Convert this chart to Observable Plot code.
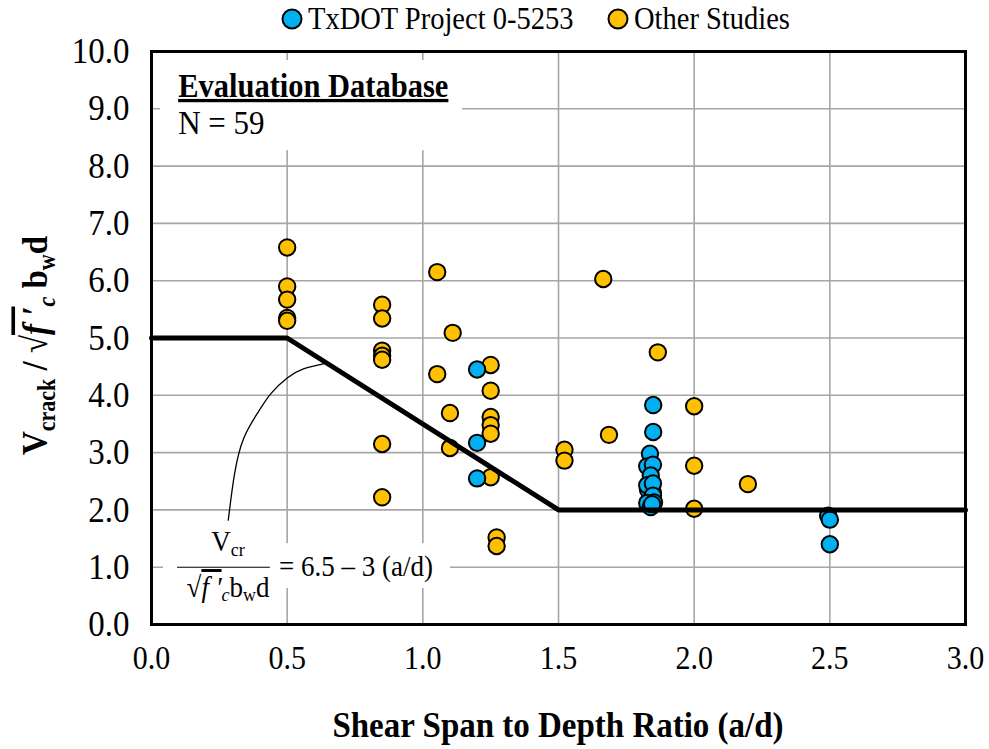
<!DOCTYPE html>
<html>
<head>
<meta charset="utf-8">
<script src="https://cdn.jsdelivr.net/npm/d3@7"></script>
<script src="https://cdn.jsdelivr.net/npm/@observablehq/plot@0.6"></script>
<style>
  html, body { margin: 0; padding: 0; background: #fff; }
  body { position: relative; width: 989px; height: 749px; overflow: hidden; font-family: "Liberation Serif", "Times New Roman", serif; }
  #legend { position: absolute; left: 0; top: 0; width: 989px; height: 36px; z-index: 2; }
  .item { position: absolute; top: 3px; display: flex; align-items: center; font-size: 28.5px; color: #000; white-space: nowrap; }
  .item svg { margin-right: 4px; }
  .item span { display: inline-block; transform: scaleY(1.08); }
  svg { overflow: visible; }
</style>
</head>
<body>
<div id="chart"></div>
<div id="legend"></div>
<script>
// ---- data ----
const seriesNames = ["TxDOT Project 0-5253", "Other Studies"];
const seriesColors = ["#00B0F0", "#FFC000"];

const txdotX = [1.20, 1.20, 1.20,
  1.849, 1.849, 1.837, 1.827, 1.848, 1.840, 1.830, 1.845, 1.827, 1.848, 1.848, 1.827, 1.852, 1.840, 1.845,
  2.494, 2.50, 2.50];
const txdotY = [4.45, 3.17, 2.55,
  3.83, 3.36, 2.98, 2.76, 2.79, 2.60, 2.35, 2.20, 2.43, 2.46, 2.25, 2.12, 2.13, 2.05, 2.10,
  1.90, 1.83, 1.40];

const otherX = [0.50, 0.50, 0.50, 0.50, 0.50,
  0.85, 0.85, 0.85, 0.85, 0.85, 0.85, 0.85,
  1.053, 1.053, 1.11, 1.10, 1.10,
  1.25, 1.25, 1.25, 1.25, 1.25, 1.25,
  1.272, 1.272, 1.522, 1.522, 1.665, 1.686, 1.866,
  2.0, 2.0, 2.0, 2.198, 1.848];
const otherY = [6.58, 5.90, 5.67, 5.35, 5.30,
  5.58, 5.34, 4.78, 4.69, 4.62, 3.15, 2.22,
  6.15, 4.37, 5.09, 3.69, 3.08,
  4.53, 4.08, 3.62, 3.48, 3.33, 2.57,
  1.52, 1.37, 3.05, 2.86, 6.03, 3.31, 4.75,
  3.81, 2.77, 2.02, 2.45, 2.30];

// design equation Vcr/(sqrt(f'c) bw d) = 6.5 - 3(a/d), limited to 2..5
const designX = [0, 0.5, 1.5, 3.0];
const designY = [5, 5, 2, 2];

// leader curve from the equation to the design line
const leaderX = [0.283, 0.305, 0.34, 0.395, 0.44, 0.50, 0.56, 0.645];
const leaderY = [1.82, 2.60, 3.25, 3.72, 4.03, 4.30, 4.46, 4.56];

const xTicks = [0, 0.5, 1.0, 1.5, 2.0, 2.5, 3.0];
const yTicks = [0, 1, 2, 3, 4, 5, 6, 7, 8, 9, 10];

const xLabel = "Shear Span to Depth Ratio (a/d)";
const boxTitle = "Evaluation Database";
const boxN = "N = 59";

// white boxes behind annotations [x1, x2, y1, y2] in data units
const boxX1 = [0.033, 0.044, 0.457];
const boxX2 = [1.146, 0.457, 1.102];
const boxY1 = [8.27, 0.16, 0.63];
const boxY2 = [9.84, 1.73, 1.41];

// ---- build tables ----
const txdot = txdotX.map((x, i) => ({x, y: txdotY[i]}));
const other = otherX.map((x, i) => ({x, y: otherY[i]}));
const design = designX.map((x, i) => ({x, y: designY[i]}));
const leader = leaderX.map((x, i) => ({x, y: leaderY[i]}));
const boxes = boxX1.map((x1, i) => ({x1, x2: boxX2[i], y1: boxY1[i], y2: boxY2[i]}));

const plot = Plot.plot({
  width: 989,
  height: 749,
  marginLeft: 151,
  marginRight: 24,
  marginTop: 51,
  marginBottom: 125,
  style: {fontFamily: "Liberation Serif, Times New Roman, serif", fontSize: "28px", color: "#000", background: "#fff", overflow: "visible"},
  x: {domain: [0, 3], ticks: xTicks},
  y: {domain: [0, 10], ticks: yTicks},
  marks: [
    Plot.gridX(xTicks, {stroke: "#a6a6a6", strokeOpacity: 1, strokeWidth: 1.6}),
    Plot.gridY(yTicks, {stroke: "#a6a6a6", strokeOpacity: 1, strokeWidth: 1.6}),
    Plot.rect(boxes, {x1: "x1", x2: "x2", y1: "y1", y2: "y2", fill: "white"}),
    Plot.axisX(xTicks, {tickSize: 0, tickPadding: 21, tickFormat: d => d.toFixed(1), label: null, fontSize: 30}),
    Plot.axisY(yTicks, {tickSize: 0, tickPadding: 22, tickFormat: d => d.toFixed(1), label: null, fontSize: 33}),
    Plot.dot(other, {x: "x", y: "y", r: 8.2, fill: seriesColors[1], stroke: "black", strokeWidth: 2, fillOpacity: 1}),
    Plot.dot(txdot, {x: "x", y: "y", r: 8.2, fill: seriesColors[0], stroke: "black", strokeWidth: 2, fillOpacity: 1}),
    Plot.line(design, {x: "x", y: "y", stroke: "black", strokeWidth: 5}),
    Plot.line(leader, {x: "x", y: "y", stroke: "black", strokeWidth: 1.3, curve: "natural"}),
    Plot.frame({stroke: "black", strokeWidth: 3})
  ]
});

document.getElementById("chart").appendChild(plot);

const sx = plot.scale("x"), sy = plot.scale("y");
const svg = d3.select(plot);
const serif = "Liberation Serif, Times New Roman, serif";

// stretch tick labels slightly vertically like the reference
svg.selectAll("g[aria-label='x-axis tick label'] text, g[aria-label='y-axis tick label'] text").each(function () {
  const t = this.getAttribute("transform");
  if (t) this.setAttribute("transform", t + " scale(1,1.1)");
});

// helper: text placed at px with slight vertical stretch
function addText(x, y, opts) {
  return svg.append("text")
    .attr("transform", `translate(${x},${y}) scale(1,${opts.sy || 1.08})`)
    .attr("text-anchor", opts.anchor || "start")
    .attr("font-family", serif)
    .attr("font-weight", opts.weight || "normal")
    .attr("font-size", opts.size);
}

// x axis title
addText((sx.apply(0) + sx.apply(3)) / 2, 737, {anchor: "middle", weight: "bold", size: 33}).text(xLabel);

// y axis title with sub-/superscripts
const yl = svg.append("text")
  .attr("transform", `translate(47,${(sy.apply(0) + sy.apply(10)) / 2 + 8}) rotate(-90) scale(1,1.1)`)
  .attr("text-anchor", "middle")
  .attr("font-family", serif).attr("font-weight", "bold").attr("font-size", 33);
yl.append("tspan").text("V");
yl.append("tspan").attr("font-size", 22).attr("dy", 7).text("crack");
yl.append("tspan").attr("dy", -7).text(" / ");
yl.append("tspan").attr("font-weight", "normal").text("√");
yl.append("tspan").attr("font-style", "italic").attr("text-decoration", "overline").text("f ′");
yl.append("tspan").attr("font-style", "italic").attr("font-size", 22).attr("dy", 7).text("c");
yl.append("tspan").attr("dy", -7).text(" b");
yl.append("tspan").attr("font-size", 22).attr("dy", 7).text("w");
yl.append("tspan").attr("dy", -7).text("d");

// database box
addText(sx.apply(0.1), sy.apply(9.2), {weight: "bold", size: 30.5})
  .attr("text-decoration", "underline").text(boxTitle);
addText(sx.apply(0.1), sy.apply(8.55), {size: 31}).text(boxN);

// equation
const fx = sx.apply(0.284);
const num = addText(fx, sy.apply(1.27), {anchor: "middle", size: 27});
num.append("tspan").text("V");
num.append("tspan").attr("font-size", 18).attr("dy", 4).text("cr");
svg.append("line")
  .attr("x1", sx.apply(0.096)).attr("x2", sx.apply(0.438))
  .attr("y1", sy.apply(0.99)).attr("y2", sy.apply(0.99))
  .attr("stroke", "black").attr("stroke-width", 1.2);
const den = addText(fx, sy.apply(0.47), {anchor: "middle", size: 27});
den.append("tspan").text("√");
den.append("tspan").attr("font-style", "italic").attr("text-decoration", "overline").text("f ′");
den.append("tspan").attr("font-style", "italic").attr("font-size", 18).attr("dy", 4).text("c");
den.append("tspan").attr("dy", -4).text("b");
den.append("tspan").attr("font-size", 18).attr("dy", 4).text("w");
den.append("tspan").attr("dy", -4).text("d");
addText(sx.apply(0.472), sy.apply(0.84), {size: 27}).text("= 6.5 – 3 (a/d)");

// ---- legend ----
const legend = d3.select("#legend");
const legendLeft = [280, 606];
seriesNames.forEach((name, i) => {
  const item = legend.append("div").attr("class", "item").style("left", legendLeft[i] + "px");
  const s = item.append("svg").attr("width", 24).attr("height", 24);
  s.append("circle").attr("cx", 12).attr("cy", 12).attr("r", 9.5)
    .attr("fill", seriesColors[i]).attr("stroke", "black").attr("stroke-width", 2);
  item.append("span").text(name);
});
</script>
</body>
</html>
